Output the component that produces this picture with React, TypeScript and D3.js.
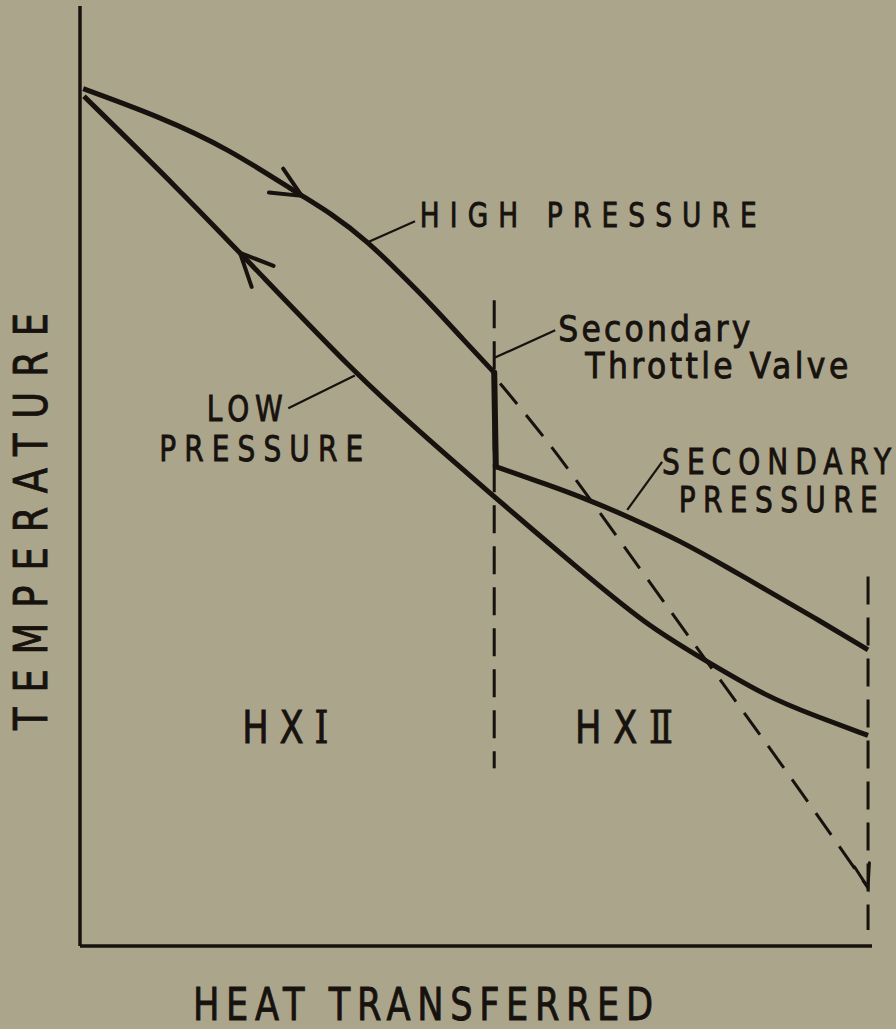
import React from 'react';
import * as d3 from 'd3';

const W = 896;
const H = 1029;
const BG = '#aaa58b';
const INK = '#17120e';

// Heat transferred (0-100) vs temperature (0-100)
const highQ = [0.4, 10.1, 18.6, 27.8, 31.6, 36.4, 40.0, 44.2, 48.4, 52.3];
const highT = [91.2, 88.2, 84.9, 79.9, 78.0, 74.9, 71.9, 68.4, 64.5, 61.0];

const lowQ = [0.5, 12.6, 22.3, 35.0, 42.9, 50.9, 63.1, 71.6, 78.3, 86.7, 93.1, 99.5];
const lowT = [90.4, 80.4, 71.9, 60.7, 54.7, 48.8, 40.0, 34.1, 30.7, 26.5, 24.4, 22.4];

const secQ = [52.5, 59.0, 64.4, 69.4, 75.8, 82.1, 86.2, 92.6, 99.5];
const secT = [51.0, 49.1, 47.4, 45.6, 43.1, 40.1, 38.1, 35.0, 31.5];

const dashQ = [52.4, 59.0, 64.8, 78.3, 88.4, 99.5];
const dashT = [60.5, 53.8, 47.1, 31.2, 19.6, 6.2];

const dividerQ = [52.3, 99.5];
const dividerTop = [68.7, 39.3];
const dividerBottom = [18.9, 1.7];

const labelText = ['HIGH PRESSURE', 'LOW', 'PRESSURE', 'Secondary', 'Throttle Valve', 'SECONDARY', 'PRESSURE'];
const labelQ = [42.9, 16.0, 10.0, 60.4, 63.8, 73.5, 75.6];
const labelT = [76.5, 55.9, 51.6, 64.4, 60.4, 50.2, 46.2];
const labelW = [337, 76, 204, 192, 263, 229, 199];
const labelSize = [33, 35, 35, 35, 35, 35, 35];
const labelSquash = [0.8, 0.8, 0.8, 0.9, 0.9, 0.8, 0.8];

const leaderQ1 = [36.4, 34.7, 52.4, 69.1];
const leaderT1 = [74.9, 60.7, 62.6, 46.4];
const leaderQ2 = [42.3, 26.3, 60.0, 73.5];
const leaderT2 = [77.1, 57.2, 65.5, 51.5];

const hxNumerals = ['\u2160', '\u2161'];
const hxQ = [20.5, 62.5];
const hxT = [21.6, 21.6];
const hxW = [86, 98];

const xTitle = 'HEAT TRANSFERRED';
const yTitle = 'TEMPERATURE';

const x = d3.scaleLinear().domain([0, 100]).range([80, 872]);
const y = d3.scaleLinear().domain([0, 100]).range([946, 6]);

type Pt = [number, number];
const zip = (qs: number[], ts: number[]): Pt[] => qs.map((q, i) => [q, ts[i]]);

const line = d3
  .line<Pt>()
  .x((d) => x(d[0]))
  .y((d) => y(d[1]))
  .curve(d3.curveBasis);

function chevron(qs: number[], ts: number[], atQ: number, forward: boolean, half: number, len: number, skew = 0) {
  let i = 0;
  while (i < qs.length - 2 && qs[i + 1] < atQ) i++;
  const f = (atQ - qs[i]) / (qs[i + 1] - qs[i]);
  const t = ts[i] + f * (ts[i + 1] - ts[i]);
  const px = x(atQ);
  const py = y(t);
  const dx = x(qs[i + 1]) - x(qs[i]);
  const dy = y(ts[i + 1]) - y(ts[i]);
  const ang = Math.atan2(dy, dx);
  const back = (forward ? ang + Math.PI : ang) + (skew * Math.PI) / 180;
  const h = (half * Math.PI) / 180;
  const a1: Pt = [px + len * Math.cos(back - h), py + len * Math.sin(back - h)];
  const a2: Pt = [px + len * Math.cos(back + h), py + len * Math.sin(back + h)];
  return `M${a1[0]},${a1[1]}L${px},${py}L${a2[0]},${a2[1]}`;
}

const font = "'DejaVu Sans', sans-serif";

function Squashed(props: { x: number; y: number; w: number; size: number; k: number; rotate?: number; children: React.ReactNode }) {
  const { k } = props;
  const rot = props.rotate ? ` rotate(${props.rotate})` : '';
  return (
    <text
      transform={`translate(${props.x},${props.y})${rot} scale(${k},1)`}
      x={0}
      y={0}
      fontFamily={font}
      fontSize={props.size}
      fill={INK}
      stroke={INK}
      strokeWidth={0.9}
      textLength={props.w / k}
      lengthAdjust="spacing"
    >
      {props.children}
    </text>
  );
}

export default function App() {
  const high = zip(highQ, highT);
  const low = zip(lowQ, lowT);
  const sec = zip(secQ, secT);
  const dash = zip(dashQ, dashT);
  const hEnd = high[high.length - 1];
  const sStart = sec[0];

  return (
    <svg
      width={W}
      height={H}
      viewBox={`0 0 ${W} ${H}`}
      style={{ position: 'absolute', left: 0, top: 0, display: 'block' }}
    >
      <rect x={0} y={0} width={W} height={H} fill={BG} />

      {/* axes */}
      <line x1={x(0)} y1={y(0)} x2={x(0)} y2={y(100)} stroke={INK} strokeWidth={3.5} />
      <line x1={x(0)} y1={y(0)} x2={x(100)} y2={y(0)} stroke={INK} strokeWidth={3.5} />

      {/* HX dividers */}
      {dividerQ.map((q, i) => (
        <line
          key={`div${i}`}
          x1={x(q)}
          x2={x(q)}
          y1={y(dividerTop[i])}
          y2={y(dividerBottom[i])}
          stroke={INK}
          strokeWidth={3}
          strokeDasharray="28,13"
        />
      ))}

      {/* dashed expansion line */}
      <path d={line(dash) || ''} fill="none" stroke={INK} strokeWidth={3} strokeDasharray="27,14" strokeDashoffset={-8} />
      <path d={chevron(dashQ, dashT, dashQ[dashQ.length - 1], true, 18, 25, 20)} fill="none" stroke={INK} strokeWidth={3} strokeLinecap="round" />

      {/* curves */}
      <path d={line(high) || ''} fill="none" stroke={INK} strokeWidth={5} strokeLinejoin="round" />
      <path d={line(low) || ''} fill="none" stroke={INK} strokeWidth={5} strokeLinejoin="round" />
      <path d={line(sec) || ''} fill="none" stroke={INK} strokeWidth={5} strokeLinejoin="round" />
      <path
        d={`M${x(hEnd[0])},${y(hEnd[1])}L${x(sStart[0])},${y(sStart[1])}`}
        fill="none"
        stroke={INK}
        strokeWidth={6}
        strokeLinecap="round"
      />

      {/* flow arrows */}
      <path d={chevron(highQ, highT, 28.0, true, 25, 33)} fill="none" stroke={INK} strokeWidth={4} strokeLinecap="round" strokeLinejoin="round" />
      <path d={chevron(lowQ, lowT, 20.2, false, 25, 36)} fill="none" stroke={INK} strokeWidth={4} strokeLinecap="round" strokeLinejoin="round" />

      {/* leaders */}
      {leaderQ1.map((q, i) => (
        <line
          key={`ld${i}`}
          x1={x(q)}
          y1={y(leaderT1[i])}
          x2={x(leaderQ2[i])}
          y2={y(leaderT2[i])}
          stroke={INK}
          strokeWidth={2.2}
        />
      ))}

      {/* labels */}
      {labelText.map((t, i) => (
        <Squashed key={`lb${i}`} x={x(labelQ[i])} y={y(labelT[i])} w={labelW[i]} size={labelSize[i]} k={labelSquash[i]}>
          {t}
        </Squashed>
      ))}

      {hxNumerals.map((n, i) => (
        <Squashed key={`hx${i}`} x={x(hxQ[i])} y={y(hxT[i])} w={hxW[i]} size={44} k={0.8}>
          HX
          <tspan fontFamily="'DejaVu Serif', 'Noto Sans CJK JP', serif">{n}</tspan>
        </Squashed>
      ))}

      {/* axis titles */}
      <Squashed x={193} y={1020} w={460} size={44} k={0.8}>
        {xTitle}
      </Squashed>
      <Squashed x={47} y={730} w={417} size={46} k={0.8} rotate={-90}>
        {yTitle}
      </Squashed>
    </svg>
  );
}
